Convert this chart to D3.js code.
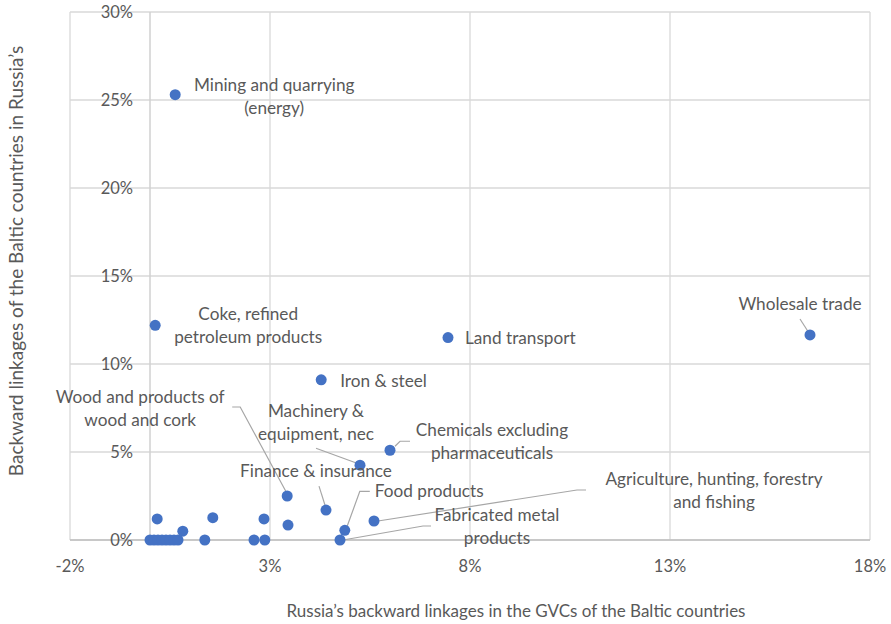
<!DOCTYPE html>
<html>
<head>
<meta charset="utf-8">
<script src="https://cdn.jsdelivr.net/npm/d3@7"></script>
<style>
  body { margin: 0; background: #fff; }
  svg text { font-family: Lato, "Open Sans", sans-serif; fill: #595959; }
</style>
</head>
<body>
<svg id="chart" width="891" height="624"></svg>
<script>
// sector names ("" = unlabeled point)
const sectors = [
  "Mining and quarrying\n(energy)",
  "Coke, refined\npetroleum products",
  "Land transport",
  "Wholesale trade",
  "Iron & steel",
  "Chemicals excluding\npharmaceuticals",
  "Machinery &\nequipment, nec",
  "Wood and products of\nwood and cork",
  "Finance & insurance",
  "Food products",
  "Agriculture, hunting, forestry\nand fishing",
  "Fabricated metal\nproducts",
  "", "", "", "", "", "", "", "",
  "", "", "", "", "", "", "", ""
];
// Russia's backward linkages in the GVCs of the Baltic countries (%)
const russiaInBaltic = [
  0.63, 0.13, 7.45, 16.5, 4.28, 6.0, 5.25, 3.43, 4.4, 4.87, 5.6, 4.75,
  0.18, 0.82, 1.57, 1.37, 2.6, 2.87, 2.85, 3.45,
  0.0, 0.1, 0.2, 0.3, 0.4, 0.5, 0.6, 0.7
];
// Backward linkages of the Baltic countries in Russia's GVCs (%)
const balticInRussia = [
  25.3, 12.2, 11.5, 11.65, 9.1, 5.1, 4.25, 2.5, 1.7, 0.55, 1.08, 0.0,
  1.2, 0.5, 1.27, 0.0, 0.0, 0.0, 1.2, 0.85,
  0, 0, 0, 0, 0, 0, 0, 0
];
const xTicks = [-2, 3, 8, 13, 18];
const yTicks = [0, 5, 10, 15, 20, 25, 30];

// label layout: offset of the label from its point, anchor, leader line
const labelLayout = {
  0: { dx: 99, dy: -10, anchor: "middle" },
  1: { dx: 93, dy: -11, anchor: "middle" },
  2: { dx: 17, dy: 0, anchor: "start" },
  3: { dx: -10, dy: -31, anchor: "middle", leader: [[-10, -16], [-1, -2]] },
  4: { dx: 19, dy: 1, anchor: "start" },
  5: { dx: 102, dy: -20, anchor: "middle", leader: [[5, -4], [10, -9], [20, -9]] },
  6: { dx: -44, dy: -54, anchor: "middle", leader: [[-44, -17], [-3, -2]] },
  7: { dx: -147, dy: -99, anchor: "middle", leader: [[-55, -89], [-47, -89], [-1, -4]] },
  8: { dx: -10, dy: -39, anchor: "middle", leader: [[-7, -24], [-1, -5]] },
  9: { dx: 30, dy: -39, anchor: "start", leader: [[25, -39], [15, -39], [2, -3]] },
  10: { dx: 340, dy: -42, anchor: "middle", leader: [[4, 0], [203, -31], [212, -31]] },
  11: { dx: 157, dy: -25, anchor: "middle", leader: [[3, 0], [83, -14], [91, -14]] }
};

const points = sectors.map((name, i) => ({
  name, x: russiaInBaltic[i], y: balticInRussia[i], i
}));

const svg = d3.select("#chart");
const margin = { top: 12, right: 21, bottom: 84, left: 70 };
const W = 891, H = 624;

const x = d3.scaleLinear().domain([-2, 18]).range([margin.left, W - margin.right]);
const y = d3.scaleLinear().domain([0, 30]).range([H - margin.bottom, margin.top]);

// gridlines
const grid = svg.append("g").attr("stroke", "#d9d9d9").attr("stroke-width", 1.3);
grid.selectAll("line.v").data(xTicks).join("line")
  .attr("x1", d => x(d)).attr("x2", d => x(d))
  .attr("y1", y(30)).attr("y2", y(0));
grid.selectAll("line.h").data(yTicks).join("line")
  .attr("x1", x(-2)).attr("x2", x(18))
  .attr("y1", d => y(d)).attr("y2", d => y(d));

// axis lines at zero
svg.append("line")
  .attr("x1", x(0)).attr("x2", x(0)).attr("y1", y(30)).attr("y2", y(0))
  .attr("stroke", "#d0d0d0").attr("stroke-width", 1.5);
svg.append("line")
  .attr("x1", x(-2)).attr("x2", x(18)).attr("y1", y(0)).attr("y2", y(0))
  .attr("stroke", "#bfbfbf").attr("stroke-width", 1.5);

// tick labels
svg.append("g").selectAll("text").data(yTicks).join("text")
  .attr("x", x(0) - 17).attr("y", d => y(d))
  .attr("dy", "0.35em").attr("text-anchor", "end")
  .style("font-size", "16.5px")
  .text(d => d + "%");
svg.append("g").selectAll("text").data(xTicks).join("text")
  .attr("x", d => x(d)).attr("y", y(0) + 26)
  .attr("dy", "0.35em").attr("text-anchor", "middle")
  .style("font-size", "16.5px")
  .text(d => d + "%");

// axis titles
svg.append("text")
  .attr("x", 516).attr("y", 617)
  .attr("text-anchor", "middle")
  .style("font-size", "17px")
  .text("Russia\u2019s backward linkages in the GVCs of the Baltic countries");
svg.append("text")
  .attr("transform", "translate(23,261) rotate(-90)")
  .attr("text-anchor", "middle")
  .style("font-size", "19px")
  .text("Backward linkages of the Baltic countries in Russia\u2019s");

// leader lines
const labelled = points.filter(p => labelLayout[p.i]);
svg.append("g").selectAll("path")
  .data(labelled.filter(p => labelLayout[p.i].leader)).join("path")
  .attr("fill", "none").attr("stroke", "#a6a6a6").attr("stroke-width", 1.2)
  .attr("d", p => d3.line()(labelLayout[p.i].leader.map(([dx, dy]) => [x(p.x) + dx, y(p.y) + dy])));

// dots
svg.append("g").selectAll("circle").data(points).join("circle")
  .attr("cx", d => x(d.x)).attr("cy", d => y(d.y)).attr("r", 5.5)
  .attr("fill", "#4472c4");

// labels
const lab = svg.append("g").selectAll("text").data(labelled).join("text")
  .attr("text-anchor", p => labelLayout[p.i].anchor)
  .style("font-size", "17.2px");
lab.each(function (p) {
  const L = labelLayout[p.i];
  d3.select(this).selectAll("tspan").data(p.name.split("\n")).join("tspan")
    .attr("x", x(p.x) + L.dx)
    .attr("y", (t, k) => y(p.y) + L.dy + k * 23)
    .attr("dy", "0.35em")
    .text(t => t);
});
</script>
</body>
</html>
